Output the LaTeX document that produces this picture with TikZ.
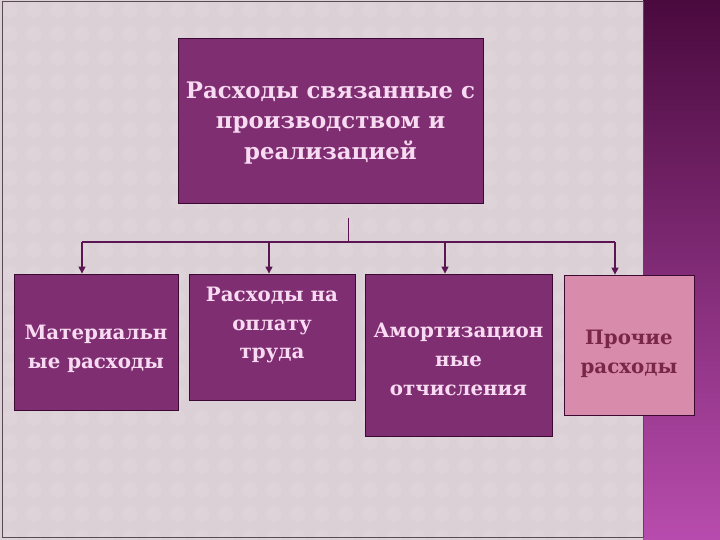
\documentclass[tikz,border=0pt]{standalone}
\usepackage{fontspec}
\setmainfont{DejaVu Serif}
\usetikzlibrary{arrows.meta,positioning}

\definecolor{panel}{HTML}{DBD0D5}
\definecolor{dotc}{HTML}{DED3D8}
\definecolor{stripT}{HTML}{4A0A3E}
\definecolor{stripB}{HTML}{B84CAE}
\definecolor{edgec}{HTML}{5A4A55}
\definecolor{boxfill}{HTML}{7F2F71}
\definecolor{boxline}{HTML}{3A0A32}
\definecolor{boxtext}{HTML}{F8DAF2}
\definecolor{pinkfill}{HTML}{D88BAA}
\definecolor{pinktext}{HTML}{7A2646}
\definecolor{linkc}{HTML}{5B1553}

\tikzset{
  box/.style={draw=boxline, fill=boxfill, line width=0.8pt, inner sep=0pt},
  lbl/.style={text=boxtext, align=center, inner sep=0pt,
    font=\fontsize{19.8}{28.8}\selectfont\bfseries},
  link/.style={draw=linkc, line width=1.3pt},
  arr/.style={link, -{Triangle[width=7pt,length=7pt]}}
}

\begin{document}
\begin{tikzpicture}[x=1pt,y=-1pt]
\useasboundingbox (0,0) rectangle (720,540);
\fill[panel] (0,0) rectangle (643,540);
\foreach \i in {0,...,26} {
 \foreach \j in {0,...,22} {
  \fill[dotc] (10+24*\i,10+24*\j) circle (8);
 }
}
\shade[top color=stripT, bottom color=stripB] (643,0) rectangle (720,540);
\draw[edgec, line width=1pt] (2,2) rectangle (643,537);

% boxes
\node[box, minimum width=305pt, minimum height=165pt] (top) at (330.5,120.5) {};
\node[box, minimum width=164pt, minimum height=136pt] (b1) at (96,342) {};
\node[box, minimum width=166pt, minimum height=126pt] (b2) at (272,337) {};
\node[box, minimum width=187pt, minimum height=162pt] (b3) at (458.5,355) {};
\node[box, fill=pinkfill, minimum width=130pt, minimum height=140pt] (b4) at (629,345) {};

% texts
\node[lbl, font=\fontsize{22.8}{30.5}\selectfont\bfseries] (ttop) at (330.5,123)
  {Расходы связанные с\\производством и\\реализацией};
\node[lbl] (t1) at (96,349) {Материальн\\ые расходы};
\node[lbl] (t2) at (272,325) {Расходы на\\оплату\\труда};
\node[lbl] (t3) at (458.5,359.5) {Амортизацион\\ные\\отчисления};
\node[lbl, text=pinktext] (t4) at (629,354) {Прочие\\расходы};

% connectors
\coordinate (stem) at (348,218);
\coordinate (bus) at (348,242);
\coordinate (f1) at ([xshift=-14pt]b1.north);
\coordinate (f2) at ([xshift=-3pt]b2.north);
\coordinate (f3) at ([xshift=-13.5pt]b3.north);
\coordinate (f4) at ([xshift=-14pt]b4.north);
\draw[link, line width=0.8pt] (stem) -- (bus);
\draw[link] (f1 |- bus) -- (f4 |- bus);
\foreach \f in {f1,f2,f3,f4} {
 \draw[arr] (\f |- bus) -- (\f);
}
\end{tikzpicture}
\end{document}
